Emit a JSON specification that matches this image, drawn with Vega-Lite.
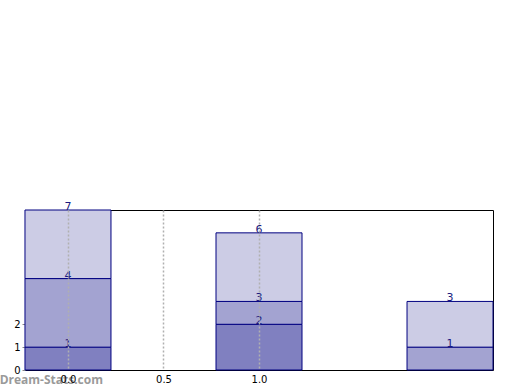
{
  "$schema": "https://vega.github.io/schema/vega-lite/v6.json",
  "width": 468,
  "height": 160,
  "autosize": {"type": "none"},
  "padding": {"left": 25, "top": 210, "right": 27, "bottom": 20},
  "background": "white",
  "config": {
    "view": {"stroke": "black", "strokeWidth": 1},
    "font": "DejaVu Sans"
  },
  "title": {
    "text": "Dream-Stats.com",
    "orient": "bottom",
    "anchor": "start",
    "frame": "bounds",
    "dx": -14,
    "offset": -9,
    "fontSize": 12,
    "fontWeight": "bold",
    "color": "#9a9a9a",
    "font": "Open Sans"
  },
  "data": {
    "values": [
      {"x": 0, "series": "a", "order": 1, "value": 1},
      {"x": 0, "series": "b", "order": 2, "value": 3},
      {"x": 0, "series": "c", "order": 3, "value": 3},
      {"x": 1, "series": "a", "order": 1, "value": 2},
      {"x": 1, "series": "b", "order": 2, "value": 1},
      {"x": 1, "series": "c", "order": 3, "value": 3},
      {"x": 2, "series": "b", "order": 2, "value": 1},
      {"x": 2, "series": "c", "order": 3, "value": 2}
    ]
  },
  "transform": [
    {"stack": "value", "groupby": ["x"], "sort": [{"field": "order"}], "as": ["y0", "y1"]}
  ],
  "encoding": {
    "x": {
      "field": "x",
      "type": "quantitative",
      "scale": {"domain": [-0.225, 2.225], "nice": false, "zero": false, "padding": 0},
      "axis": {
        "values": [0, 0.5, 1.0],
        "format": ".1f",
        "title": null,
        "grid": true,
        "gridDash": [2, 2],
        "gridColor": "#b0b0b0",
        "gridWidth": 1.5,
        "domain": false,
        "ticks": false,
        "labelPadding": 4,
        "labelFontSize": 10,
        "labelColor": "black",
        "labelFont": "DejaVu Sans",
        "zindex": 1
      }
    }
  },
  "layer": [
    {
      "mark": {"type": "bar", "width": 86, "stroke": "#000080", "strokeWidth": 1},
      "encoding": {
        "y": {
          "field": "y1",
          "type": "quantitative",
          "scale": {"domain": [0, 7], "nice": false},
          "axis": {
            "values": [0, 1, 2],
            "title": null,
            "grid": false,
            "domain": false,
            "tickSize": 3,
            "tickColor": "#888888",
            "labelFontSize": 10,
            "labelColor": "black",
            "labelFont": "DejaVu Sans",
            "labelPadding": 2
          }
        },
        "y2": {"field": "y0"},
        "color": {
          "field": "series",
          "type": "nominal",
          "scale": {"domain": ["a", "b", "c"], "range": ["#8080c0", "#a3a3d1", "#ccccE5"]},
          "legend": null
        },
        "fillOpacity": {"value": 1}
      }
    },
    {
      "mark": {"type": "text", "baseline": "middle", "dy": -3, "fontSize": 11, "color": "#1a1a80", "font": "DejaVu Sans"},
      "encoding": {
        "y": {"field": "y1", "type": "quantitative"},
        "text": {"field": "y1", "type": "quantitative"}
      }
    }
  ]
}
